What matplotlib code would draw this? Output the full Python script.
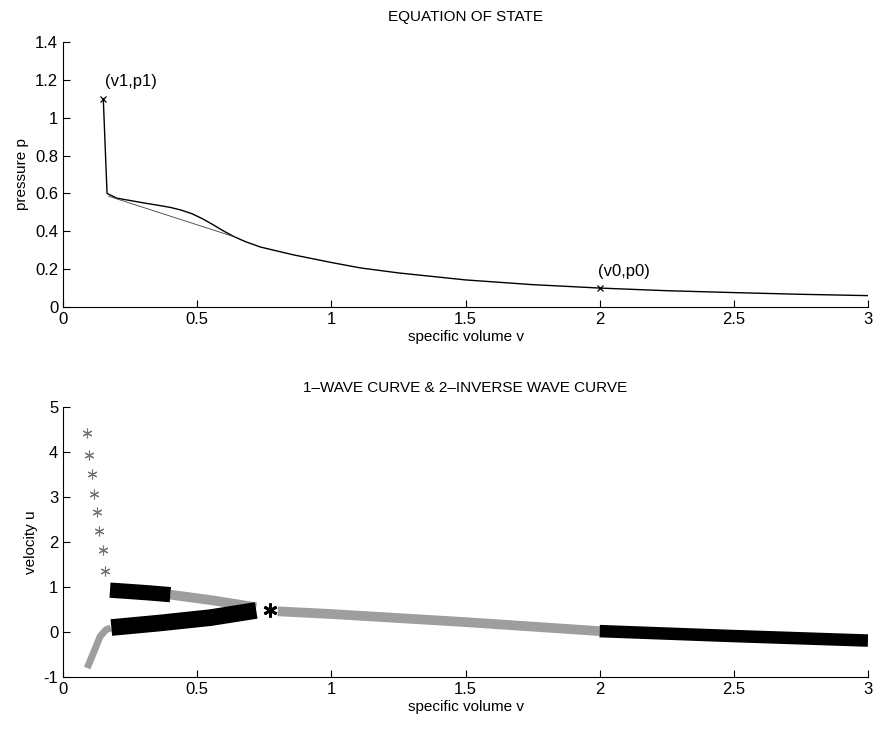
import matplotlib
matplotlib.use('Agg')
import matplotlib.pyplot as plt
from matplotlib.ticker import FormatStrFormatter

plt.rcParams['font.family'] = ['Liberation Sans', 'DejaVu Sans']
plt.rcParams['font.size'] = 11

# equation of state p(v)
v_eos = [0.15, 0.164, 0.20, 0.24, 0.30, 0.36, 0.40, 0.44, 0.48, 0.52, 0.56, 0.60,
         0.64, 0.68, 0.735, 0.80, 0.86, 0.93, 1.0, 1.11, 1.25, 1.5, 1.75, 2.0,
         2.25, 2.5, 2.75, 3.0]
p_eos = [1.10, 0.60, 0.575, 0.565, 0.55, 0.536, 0.526, 0.512, 0.493, 0.466, 0.434,
         0.400, 0.370, 0.345, 0.317, 0.295, 0.275, 0.255, 0.235, 0.206, 0.18, 0.143,
         0.118, 0.10, 0.086, 0.076, 0.067, 0.060]
# convex hull chord
v_chord = [0.17, 0.64]
p_chord = [0.585, 0.370]
# end states
v1, p1 = 0.15, 1.10
v0, p0 = 2.0, 0.10

# 1-wave curve / 2-inverse wave curve in (v,u)
v_iso = [0.09, 0.097, 0.109, 0.117, 0.126, 0.135, 0.148, 0.158]
u_iso = [4.42, 3.93, 3.51, 3.07, 2.67, 2.25, 1.82, 1.36]
v_tail = [0.09, 0.113, 0.138, 0.16, 0.178]
u_tail = [-0.80, -0.47, -0.10, 0.05, 0.09]
v_up_dark = [0.175, 0.25, 0.32, 0.40]
u_up_dark = [0.93, 0.90, 0.87, 0.83]
v_up_light = [0.40, 0.55, 0.72]
u_up_light = [0.83, 0.71, 0.55]
v_low_dark = [0.18, 0.36, 0.55, 0.72]
u_low_dark = [0.10, 0.20, 0.32, 0.48]
v_right_light = [0.80, 1.0, 1.25, 1.5, 1.75, 2.0]
u_right_light = [0.46, 0.40, 0.31, 0.22, 0.12, 0.02]
v_right_dark = [2.0, 2.5, 3.0]
u_right_dark = [0.02, -0.09, -0.19]
v_mid, u_mid = 0.77, 0.50

xticks = [0, 0.5, 1, 1.5, 2, 2.5, 3]
ast = (6, 2, 0)
grey = '0.62'

fig = plt.figure(figsize=(8.78, 7.29), dpi=100)
ax1 = fig.add_axes([0.0718, 0.5789, 0.9168, 0.3635])
ax2 = fig.add_axes([0.0718, 0.0713, 0.9168, 0.3704])

for ax in (ax1, ax2):
    ax.spines['top'].set_visible(False)
    ax.spines['right'].set_visible(False)
    ax.tick_params(direction='in', length=5, width=0.8, labelsize=12)
    ax.set_xlim(0, 3)
    ax.set_xticks(xticks)
    ax.xaxis.set_major_formatter(FormatStrFormatter('%g'))
    ax.yaxis.set_major_formatter(FormatStrFormatter('%g'))
    ax.set_xlabel('specific volume v', labelpad=2)

# top panel
ax1.plot(v_eos, p_eos, color='k', lw=1.0)
ax1.plot(v_chord, p_chord, color='0.25', lw=0.6)
ax1.plot([v1, v0], [p1, p0], 'kx', ms=5, mew=0.9)
ax1.text(v1 + 0.005, p1 + 0.05, '(v1,p1)', ha='left', va='bottom', fontsize=12)
ax1.text(v0 - 0.005, p0 + 0.05, '(v0,p0)', ha='left', va='bottom', fontsize=12)
ax1.set_ylim(0, 1.4)
ax1.set_yticks([0, 0.2, 0.4, 0.6, 0.8, 1, 1.2, 1.4])
ax1.set_ylabel('pressure p')
ax1.set_title('EQUATION OF STATE', fontsize=11, pad=15)

# bottom panel: dense marker runs drawn as thick bands
ax2.plot(v_iso, u_iso, ls='none', marker=ast, ms=7, color='0.45', mew=0.8)
ax2.plot(v_tail, u_tail, color=grey, lw=5, solid_capstyle='butt')
ax2.plot(v_up_light, u_up_light, color=grey, lw=7, solid_capstyle='butt')
ax2.plot(v_up_dark, u_up_dark, color='k', lw=11, solid_capstyle='butt')
ax2.plot(v_low_dark, u_low_dark, color='k', lw=12, solid_capstyle='butt')
ax2.plot(v_right_light, u_right_light, color=grey, lw=7, solid_capstyle='butt')
ax2.plot(v_right_dark, u_right_dark, color='k', lw=9, solid_capstyle='butt')
ax2.plot([v_mid], [u_mid], ls='none', marker=ast, ms=10, color='k', mew=2)
ax2.set_ylim(-1, 5)
ax2.set_yticks([-1, 0, 1, 2, 3, 4, 5])
ax2.set_ylabel('velocity u')
ax2.set_title('1\u2013WAVE CURVE & 2\u2013INVERSE WAVE CURVE', fontsize=11, pad=11)

fig.savefig('out.png', dpi=100)
